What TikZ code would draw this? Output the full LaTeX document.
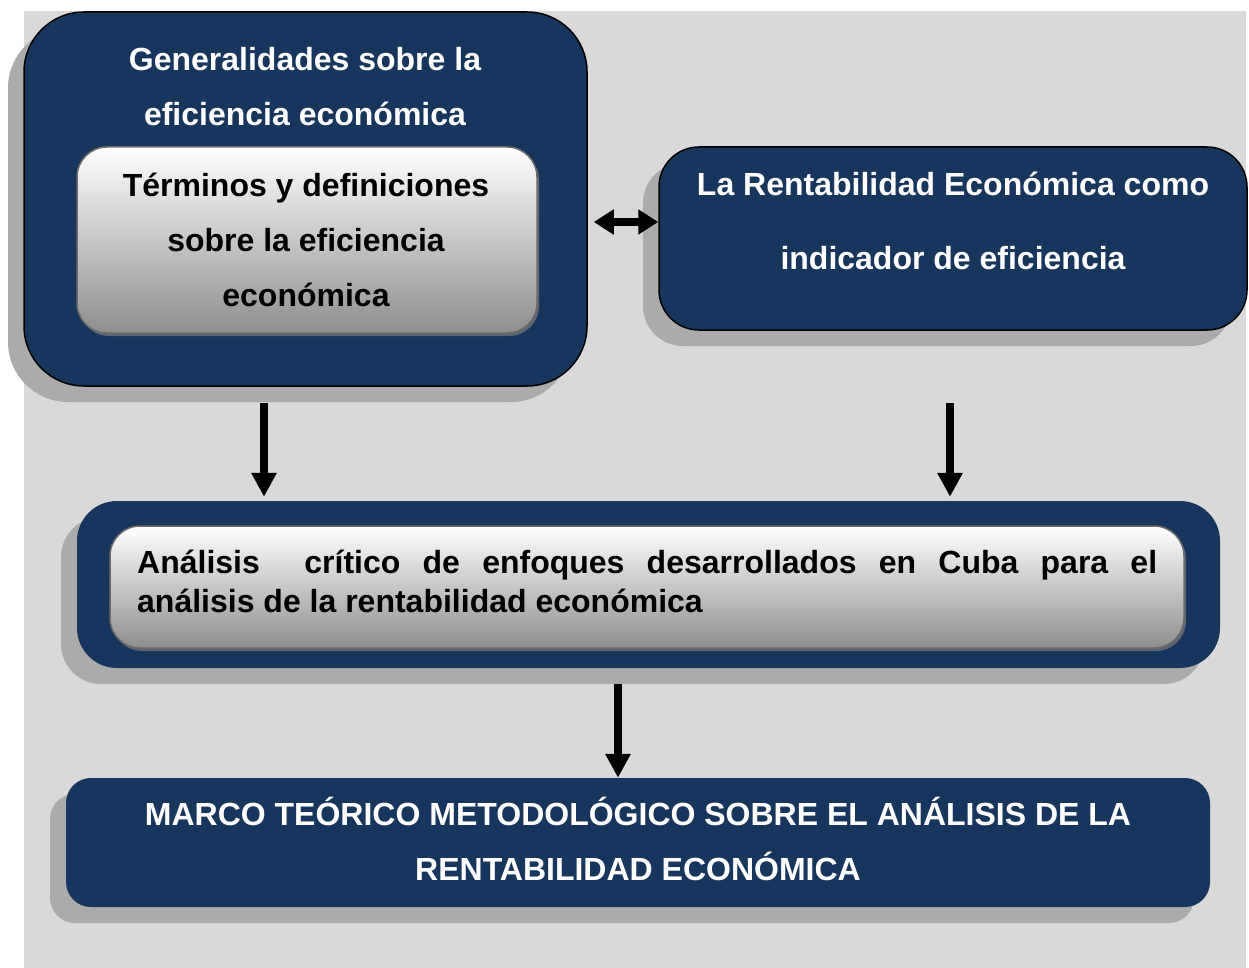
\documentclass[tikz,border=0pt]{standalone}
\usepackage{fontspec}
\setmainfont{Liberation Sans}
\usetikzlibrary{arrows.meta,shadows}
\definecolor{navy}{HTML}{17365D}
\definecolor{bggray}{HTML}{D9D9D9}
\definecolor{shgray}{HTML}{ABABAB}
\definecolor{innershade}{HTML}{5E6572}
\definecolor{innerborder}{HTML}{6B6B6B}
\definecolor{innerbottom}{HTML}{8E8E8E}
\tikzset{
  bigbox/.style={fill=navy, rounded corners=#1, inner sep=0pt,
    drop shadow={shadow xshift=-16pt, shadow yshift=-16pt, fill=shgray, opacity=1}},
  framed/.style={draw=black, line width=1.5pt},
  innerbox/.style={rounded corners=#1, inner sep=0pt, draw=innerborder, line width=1.5pt,
    top color=white, bottom color=innerbottom,
    drop shadow={shadow xshift=2pt, shadow yshift=-3pt, fill=innershade, opacity=1}},
  whitetxt/.style={text=white, font=\fontsize{32}{55}\selectfont\bfseries, align=center, inner sep=0pt},
  blacktxt/.style={text=black, font=\fontsize{32}{55}\selectfont\bfseries, align=center, inner sep=0pt},
  arr/.style={line width=8pt, -{Triangle[width=24pt,length=24pt]}},
  dblarr/.style={line width=8pt, {Triangle[width=24pt,length=20pt]}-{Triangle[width=24pt,length=20pt]}}
}
\begin{document}
\begin{tikzpicture}[x=1pt,y=-1pt]
\useasboundingbox (0,0) rectangle (1249,968);
\fill[bggray] (24,11) rectangle (1246,968);

% Box 1
\node[bigbox=60pt, framed, minimum width=563pt, minimum height=374pt] (b1) at (305.5,199) {};
\node[whitetxt] (t1) at (305,87) {Generalidades sobre la\\eficiencia económica};
\node[innerbox=30pt, minimum width=460pt, minimum height=186pt] (i1) at (307,240) {};
\node[blacktxt] (ti1) at (306,240) {Términos y definiciones\\sobre la eficiencia\\económica};

% Box 2
\node[bigbox=40pt, framed, minimum width=588pt, minimum height=183pt] (b2) at (953,238.5) {};
\node[whitetxt, font=\fontsize{32}{74}\selectfont\bfseries] (t2) at (953,221) {La Rentabilidad Económica como\\indicador de eficiencia};

% Box 3
\node[bigbox=40pt, minimum width=1143pt, minimum height=167pt] (b3) at (648.5,584.5) {};
\node[innerbox=30pt, minimum width=1074pt, minimum height=122pt] (i3) at (647,587) {};
\node[blacktxt, font=\fontsize{32}{39}\selectfont\bfseries, align=justify, text width=1020pt, anchor=west] (t3) at (137,581.5)
  {Análisis\ \ crítico de enfoques desarrollados en Cuba para el\linebreak análisis de la rentabilidad económica};

% Box 4
\node[bigbox=25pt, minimum width=1144pt, minimum height=129pt] (b4) at (638,842.5) {};
\node[whitetxt] (t4) at (638,838.5) {MARCO TEÓRICO METODOLÓGICO SOBRE EL ANÁLISIS DE LA\\RENTABILIDAD ECONÓMICA};

% Connectors
\draw[arr] ([xshift=-41.5pt,yshift=-16pt]b1.south) -- ([xshift=-384.5pt,yshift=4pt]b3.north);
\draw[arr] ([xshift=-3pt,yshift=-72pt]b2.south) -- ([xshift=301.5pt,yshift=4pt]b3.north);
\draw[arr] ([xshift=-30.5pt,yshift=-16pt]b3.south) -- ([xshift=-20pt]b4.north);
\draw[dblarr] ([xshift=6pt,yshift=-23pt]b1.east) -- ([yshift=16.5pt]b2.west);
\end{tikzpicture}
\end{document}
